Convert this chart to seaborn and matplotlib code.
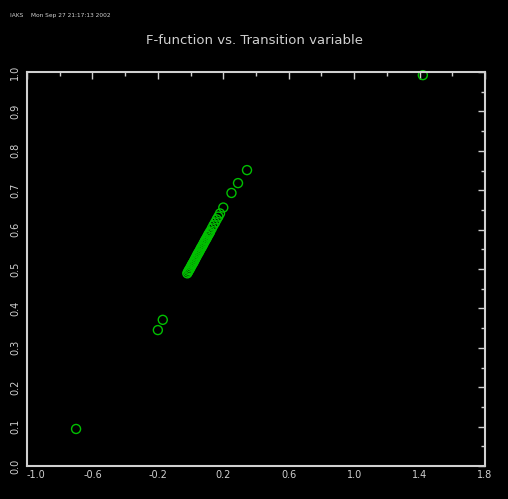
import matplotlib
matplotlib.use("Agg")
import matplotlib.pyplot as plt
import seaborn as sns
import numpy as np
import pandas as pd
from matplotlib.ticker import MultipleLocator

# ---- data ----
transition = [-0.70, -0.20, -0.17,
              -0.02, -0.015, -0.01, -0.005, 0.00, 0.005, 0.01, 0.015, 0.02, 0.025,
              0.03, 0.035, 0.04, 0.045, 0.05, 0.055, 0.06, 0.065, 0.07, 0.075,
              0.08, 0.085, 0.09, 0.095, 0.10, 0.105, 0.11, 0.115, 0.12, 0.13,
              0.14, 0.15, 0.16, 0.17, 0.18, 0.20, 0.25, 0.29, 0.345,
              1.42]
f_function = [0.094, 0.345, 0.371,
              0.489, 0.493, 0.497, 0.500, 0.504, 0.508, 0.512, 0.515, 0.519, 0.523,
              0.527, 0.531, 0.535, 0.539, 0.542, 0.546, 0.550, 0.554, 0.557, 0.561,
              0.565, 0.569, 0.573, 0.576, 0.580, 0.584, 0.588, 0.591, 0.595, 0.603,
              0.611, 0.618, 0.626, 0.633, 0.641, 0.656, 0.693, 0.718, 0.751,
              0.992]

x_ticks = [-1.0, -0.6, -0.2, 0.2, 0.6, 1.0, 1.4, 1.8]
x_tick_labels = ["-1.0", "-0.6", "-0.2", "0.2", "0.6", "1.0", "1.4", "1.8"]
y_ticks = [0.0, 0.1, 0.2, 0.3, 0.4, 0.5, 0.6, 0.7, 0.8, 0.9, 1.0]
y_tick_labels = ["0.0", "0.1", "0.2", "0.3", "0.4", "0.5", "0.6", "0.7", "0.8", "0.9", "1.0"]

df = pd.DataFrame({"transition": transition, "F": f_function})

sns.set_style("dark")
plt.rcParams["font.family"] = ["DejaVu Sans"]

fg = "#d0d0d0"
fig = plt.figure(figsize=(5.08, 4.99), dpi=100, facecolor="black")
ax = fig.add_axes([27 / 508, 33 / 499, 458 / 508, 394 / 499])
ax.set_facecolor("black")
ax.grid(False)

sns.scatterplot(data=df, x="transition", y="F", ax=ax, marker="o", s=42,
                facecolor="none", edgecolor="#00c000", linewidth=1.0,
                legend=False, clip_on=False)

ax.set_xlim(-1.0, 1.8)
ax.set_ylim(0.0, 1.0)
ax.set_xlabel("")
ax.set_ylabel("")

ax.set_xticks(x_ticks)
ax.set_xticklabels(x_tick_labels)
ax.set_yticks(y_ticks)
ax.set_yticklabels(y_tick_labels, rotation=90, va="center")
ax.xaxis.set_minor_locator(MultipleLocator(0.2))
ax.yaxis.set_minor_locator(MultipleLocator(0.05))

ax.tick_params(which="both", direction="in", colors=fg, top=True, right=True,
               labelsize=7, labelcolor=fg)
ax.tick_params(which="major", length=5, width=1)
ax.tick_params(which="minor", length=3, width=1)
ax.tick_params(axis="x", pad=3)
ax.tick_params(axis="y", pad=5)
first = ax.get_xticklabels()[0]
first.set_ha("left")

for s in ax.spines.values():
    s.set_visible(True)
    s.set_color(fg)
    s.set_linewidth(1.5)

fig.text(255 / 508, 1 - 40 / 499, "F-function vs. Transition variable",
         color=fg, fontsize=9.5, ha="center", va="center")
fig.text(10 / 508, 1 - 15 / 499, "IAKS    Mon Sep 27 21:17:13 2002",
         color=fg, fontsize=4.2, ha="left", va="center")

fig.savefig("out.png", dpi=100, facecolor="black")
